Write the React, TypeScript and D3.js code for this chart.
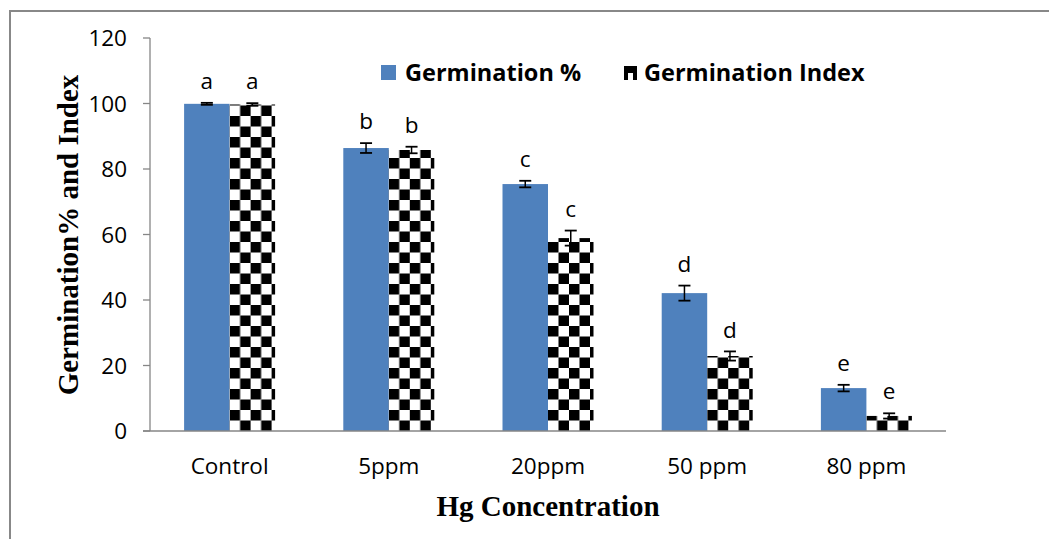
import React from "react";
import * as d3 from "d3";

// Germination response to mercury concentration
const categories = ["Control", "5ppm", "20ppm", "50 ppm", "80 ppm"];
const germPct = [99.9, 86.4, 75.4, 42.1, 13.1];
const germPctErr = [0.3, 1.5, 1.0, 2.3, 1.0];
const germIdx = [99.7, 85.8, 58.9, 22.9, 4.6];
const germIdxErr = [0.4, 1.0, 2.3, 1.4, 0.8];
const pctLetters = ["a", "b", "c", "d", "e"];
const idxLetters = ["a", "b", "c", "d", "e"];
const yTicks = [0, 20, 40, 60, 80, 100, 120];

const W = 1049;
const H = 539;
const plot = { left: 150, right: 946, top: 38, bottom: 431 };
const BLUE = "#4F81BD";
const AXIS = "#868686";
const SANS = "'Open Sans', Lato, sans-serif";
const SERIF = "'Liberation Serif', 'Times New Roman', serif";
const CELL = 10.5;

export default function App() {
  const x = d3
    .scaleBand<string>()
    .domain(categories)
    .range([plot.left, plot.right])
    .paddingInner(0)
    .paddingOuter(0);
  const y = d3.scaleLinear().domain([0, 120]).range([plot.bottom, plot.top]);
  const barW = 45.5;

  const series = [
    { key: "pct", values: germPct, errs: germPctErr, letters: pctLetters, offset: -barW },
    { key: "idx", values: germIdx, errs: germIdxErr, letters: idxLetters, offset: 0 },
  ];

  return (
    <svg
      width={W}
      height={H}
      style={{ position: "absolute", left: 0, top: 0, background: "#fff" }}
    >
      <defs>
        {categories.map((c, i) => {
          const cx = (x(c) ?? 0) + x.bandwidth() / 2;
          return (
            <pattern
              key={c}
              id={`checker-${i}`}
              patternUnits="userSpaceOnUse"
              x={cx}
              y={plot.bottom}
              width={CELL * 2}
              height={CELL * 2}
            >
              <rect width={CELL * 2} height={CELL * 2} fill="#fff" />
              <rect x={0} y={0} width={CELL} height={CELL} fill="#000" />
              <rect x={CELL} y={CELL} width={CELL} height={CELL} fill="#000" />
            </pattern>
          );
        })}
      </defs>

      {/* outer frame */}
      <rect x={10} y={11} width={1060} height={560} fill="none" stroke="#888" strokeWidth={2} />

      {/* y axis */}
      <line x1={plot.left} x2={plot.left} y1={plot.top} y2={plot.bottom} stroke={AXIS} strokeWidth={1.3} />
      {yTicks.map((t) => (
        <g key={t}>
          <line x1={plot.left - 7} x2={plot.left} y1={y(t)} y2={y(t)} stroke={AXIS} strokeWidth={1.3} />
          <text
            x={127}
            y={y(t)}
            dy="0.36em"
            textAnchor="end"
            fontFamily={SANS}
            fontSize={22.5}
            fill="#000"
          >
            {t}
          </text>
        </g>
      ))}

      {/* bars */}
      {series.map((s) =>
        categories.map((c, i) => {
          const cx = (x(c) ?? 0) + x.bandwidth() / 2;
          const bx = cx + s.offset;
          const v = s.values[i];
          const e = s.errs[i];
          const yTop = y(v + e);
          const yBot = y(v - e);
          return (
            <g key={s.key + c}>
              <rect
                x={bx}
                y={y(v)}
                width={barW}
                height={plot.bottom - y(v)}
                fill={s.key === "pct" ? BLUE : `url(#checker-${i})`}
              />
              <line x1={bx + barW / 2} x2={bx + barW / 2} y1={yTop} y2={yBot} stroke="#000" strokeWidth={1.5} />
              <line x1={bx + barW / 2 - 6} x2={bx + barW / 2 + 6} y1={yTop} y2={yTop} stroke="#000" strokeWidth={1.8} />
              <line x1={bx + barW / 2 - 6} x2={bx + barW / 2 + 6} y1={yBot} y2={yBot} stroke="#000" strokeWidth={1.8} />
              <text
                x={bx + barW / 2}
                y={yTop - 22}
                dy="0.36em"
                textAnchor="middle"
                fontFamily={SANS}
                fontSize={22.5}
                fill="#000"
              >
                {s.letters[i]}
              </text>
            </g>
          );
        })
      )}

      {/* x axis */}
      <line x1={plot.left - 7} x2={plot.right} y1={plot.bottom} y2={plot.bottom} stroke={AXIS} strokeWidth={1.5} />
      {categories.map((c) => (
        <text
          key={c}
          x={(x(c) ?? 0) + x.bandwidth() / 2}
          y={466}
          dy="0.36em"
          textAnchor="middle"
          fontFamily={SANS}
          fontSize={22.5}
          fill="#000"
        >
          {c}
        </text>
      ))}

      {/* legend */}
      <rect x={381} y={65} width={15} height={15} fill={BLUE} />
      <text x={405} y={73} dy="0.36em" fontFamily={SANS} fontWeight="bold" fontSize={23.5} fill="#000">
        Germination %
      </text>
      <g>
        <rect x={624} y={66} width={13} height={14} fill="#fff" />
        <rect x={624} y={66} width={13} height={7} fill="#000" />
        <rect x={624} y={73} width={4} height={7} fill="#000" />
        <rect x={633} y={73} width={4} height={7} fill="#000" />
      </g>
      <text x={644} y={73} dy="0.36em" fontFamily={SANS} fontWeight="bold" fontSize={23.5} fill="#000">
        Germination Index
      </text>

      {/* axis titles */}
      <text
        x={548}
        y={506}
        dy="0.36em"
        textAnchor="middle"
        fontFamily={SERIF}
        fontWeight="bold"
        fontSize={29}
        fill="#000"
      >
        Hg Concentration
      </text>
      <text
        transform={`translate(68, 235) rotate(-90)`}
        dy="0.36em"
        textAnchor="middle"
        fontFamily={SERIF}
        fontWeight="bold"
        fontSize={29}
        fill="#000"
      >
        Germination% and Index
      </text>
    </svg>
  );
}
